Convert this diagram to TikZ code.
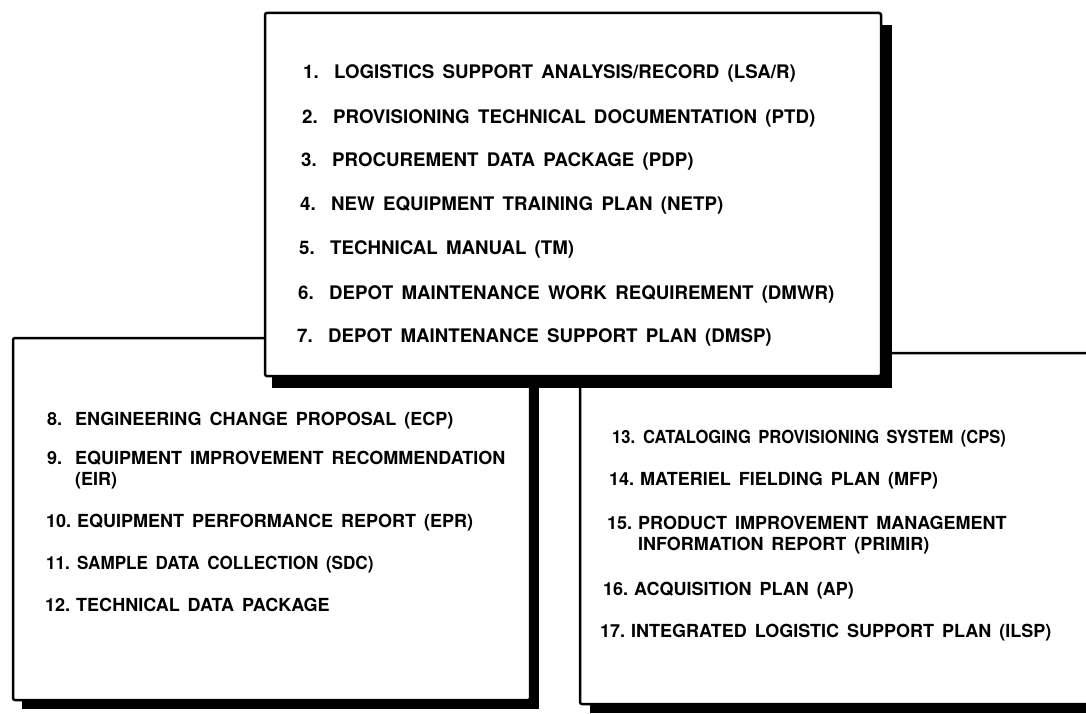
\documentclass[tikz,border=0pt]{standalone}
\usepackage{fontspec}
\setmainfont{TeX Gyre Heros}[WordSpace=1.6]
\begin{document}
\begin{tikzpicture}[x=1pt,y=-1pt,
  item/.style={anchor=base west, inner sep=0pt, font=\bfseries\fontsize{18}{20}\selectfont},
  topitem/.style={item, font=\bfseries\fontsize{18.7}{20}\selectfont},
  boxline/.style={fill=white, draw=black, line width=2.5pt, rounded corners=2pt},
  shadow/.style={fill=black}]
\useasboundingbox (0,0) rectangle (1086,714);
% right box
\fill[shadow] (590,362) rectangle (1100,713);
\filldraw[boxline] (580,353) rectangle (1100,704);
% left box
\fill[shadow] (22,348) rectangle (539,709);
\filldraw[boxline] (13,338) rectangle (530,700);
% top box
\fill[shadow] (272,25) rectangle (892,388);
\filldraw[boxline] (265,13) rectangle (881,376);
% top box items
\node[topitem] (i1) at (303,79) {\makebox[31pt][l]{1.}LOGISTICS SUPPORT ANALYSIS/RECORD (LSA/R)};
\node[topitem] (i2) at (302,124) {\makebox[31pt][l]{2.}PROVISIONING TECHNICAL DOCUMENTATION (PTD)};
\node[topitem] (i3) at (301,167) {\makebox[31pt][l]{3.}PROCUREMENT DATA PACKAGE (PDP)};
\node[topitem] (i4) at (300,211) {\makebox[31pt][l]{4.}NEW EQUIPMENT TRAINING PLAN (NETP)};
\node[topitem] (i5) at (299,254) {\makebox[31pt][l]{5.}TECHNICAL MANUAL (TM)};
\node[topitem] (i6) at (298,299) {\makebox[31pt][l]{6.}DEPOT MAINTENANCE WORK REQUIREMENT (DMWR)};
\node[topitem] (i7) at (297,342) {\makebox[31pt][l]{7.}DEPOT MAINTENANCE SUPPORT PLAN (DMSP)};
% left box items
\node[item] (i8) at (47,425) {\makebox[28pt][l]{8.}ENGINEERING CHANGE PROPOSAL (ECP)};
\node[item] (i9) at (47,464) {\makebox[28pt][l]{9.}EQUIPMENT IMPROVEMENT RECOMMENDATION};
\node[item] (i9b) at (75,485) {(EIR)};
\node[item] (i10) at (46,527) {\makebox[31pt][l]{10.}EQUIPMENT PERFORMANCE REPORT (EPR)};
\node[item] (i11) at (46,569) {\scalebox{0.95}[1]{\makebox[32.6pt][l]{11.}SAMPLE DATA COLLECTION (SDC)}};
\node[item] (i12) at (45,611) {\makebox[31pt][l]{12.}TECHNICAL DATA PACKAGE};
% right box items
\node[item] (i13) at (612,443) {\scalebox{0.92}[1]{\makebox[33.7pt][l]{13.}CATALOGING PROVISIONING SYSTEM (CPS)}};
\node[item] (i14) at (609,485) {\makebox[31pt][l]{14.}MATERIEL FIELDING PLAN (MFP)};
\node[item] (i15) at (607,529) {\makebox[31pt][l]{15.}PRODUCT IMPROVEMENT MANAGEMENT};
\node[item] (i15b) at (638,550) {INFORMATION REPORT (PRIMIR)};
\node[item] (i16) at (603,595) {\makebox[31pt][l]{16.}ACQUISITION PLAN (AP)};
\node[item] (i17) at (600,637) {\makebox[31pt][l]{17.}INTEGRATED LOGISTIC SUPPORT PLAN (ILSP)};
\end{tikzpicture}
\end{document}
